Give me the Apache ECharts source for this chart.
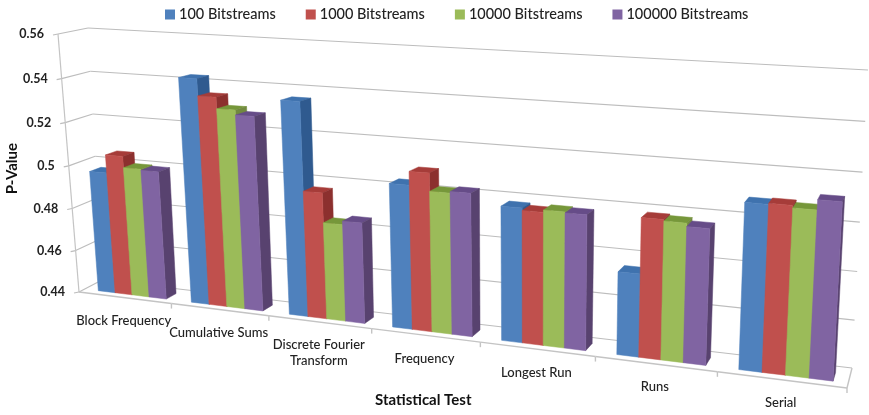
<!DOCTYPE html>
<html>
<head>
<meta charset="utf-8">
<style>html,body{margin:0;padding:0;background:#fff}#chart{width:869px;height:415px}</style>
<script src="https://cdn.jsdelivr.net/npm/echarts@6/dist/echarts.min.js"></script>
</head>
<body>
<div id="chart"></div>
<script>
// P-values per statistical test, one list per bitstream count
const categories = ['Block Frequency', 'Cumulative Sums', 'Discrete Fourier\nTransform', 'Frequency', 'Longest Run', 'Runs', 'Serial'];
const yTicks = [0.44, 0.46, 0.48, 0.5, 0.52, 0.54, 0.56];
const seriesNames = ['100 Bitstreams', '1000 Bitstreams', '10000 Bitstreams', '100000 Bitstreams'];
const bits100 = [0.4968, 0.5428, 0.5358, 0.5034, 0.4979, 0.4751, 0.5081];
const bits1000 = [0.5052, 0.5352, 0.4966, 0.5093, 0.4969, 0.4984, 0.5085];
const bits10000 = [0.5, 0.5301, 0.4834, 0.5015, 0.4979, 0.4978, 0.5075];
const bits100000 = [0.4995, 0.5279, 0.485, 0.5022, 0.4975, 0.4964, 0.5115];

const seriesValues = [bits100, bits1000, bits10000, bits100000];
const faceColors = [
  { front: '#4f81bd', side: '#2f5a8f', top: '#3f72ae' },
  { front: '#c0504d', side: '#8c302e', top: '#a63c39' },
  { front: '#9bbb59', side: '#71893f', top: '#76973a' },
  { front: '#8064a2', side: '#58426f', top: '#664c88' }
];

// Box frame of the 3D view: front and back plane corners on the page
const frontPlane = [[79, 292], [847, 388], [864, 76], [58, 34]];
const backPlane = [[102, 280], [852, 368], [868, 70], [88, 28]];

// Unit square to quadrilateral homography
function homography(q) {
  const [[x0, y0], [x1, y1], [x2, y2], [x3, y3]] = q;
  const dx1 = x1 - x2, dx2 = x3 - x2, sx = x0 - x1 + x2 - x3;
  const dy1 = y1 - y2, dy2 = y3 - y2, sy = y0 - y1 + y2 - y3;
  const det = dx1 * dy2 - dx2 * dy1;
  const g = (sx * dy2 - dx2 * sy) / det;
  const h = (dx1 * sy - sx * dy1) / det;
  const a = x1 - x0 + g * x1, b = x3 - x0 + h * x3;
  const d = y1 - y0 + g * y1, e = y3 - y0 + h * y3;
  return (u, v) => {
    const w = g * u + h * v + 1;
    return [(a * u + b * v + x0) / w, (d * u + e * v + y0) / w];
  };
}
const projFront = homography(frontPlane);
const projBack = homography(backPlane);

// u: along the categories, v: up the value axis, d: depth from front to back wall
function project(u, v, d) {
  const f = projFront(u, v), b = projBack(u, v);
  return [f[0] + (b[0] - f[0]) * d, f[1] + (b[1] - f[1]) * d];
}

// Normalised position of a data point in the flat cartesian scale
function toUnit(cs, pt) {
  return [(pt[0] - cs.x) / cs.width, (cs.y + cs.height - pt[1]) / cs.height];
}

const barDepthFront = 0.25, barDepthBack = 0.68;
const clusterStart = 0.15, clusterEnd = 0.885;

function barRenderer(seriesIndex) {
  const colors = faceColors[seriesIndex];
  const slotWidth = (clusterEnd - clusterStart) / seriesValues.length;
  return function (params, api) {
    const cs = params.coordSys;
    const cat = api.value(0);
    const top = toUnit(cs, api.coord([cat, api.value(1)]));
    const base = toUnit(cs, api.coord([cat, yTicks[0]]));
    const band = api.size([1, 0])[0] / cs.width;
    const bandStart = top[0] - band / 2;
    const u0 = bandStart + band * (clusterStart + slotWidth * seriesIndex);
    const u1 = u0 + band * slotWidth;
    const fn = (u, v) => project(u, v, barDepthFront);
    const bk = (u, v) => project(u, v, barDepthBack);
    const face = (points, color) => ({
      type: 'polygon',
      shape: { points },
      style: { fill: color, stroke: color, lineWidth: 0.5 }
    });
    return {
      type: 'group',
      children: [
        face([fn(u0, top[1]), fn(u1, top[1]), bk(u1, top[1]), bk(u0, top[1])], colors.top),
        face([fn(u1, top[1]), bk(u1, top[1]), bk(u1, base[1]), fn(u1, base[1])], colors.side),
        face([fn(u0, top[1]), fn(u1, top[1]), fn(u1, base[1]), fn(u0, base[1])], colors.front)
      ]
    };
  };
}

// Back wall grid lines, floor edges and value axis with its tick labels
function renderValueLine(params, api) {
  const cs = params.coordSys;
  const v = toUnit(cs, api.coord([0, api.value(0)]))[1];
  const lineStyle = { stroke: '#bdbdbd', lineWidth: 1.2, fill: null };
  const line = (a, b) => ({ type: 'line', shape: { x1: a[0], y1: a[1], x2: b[0], y2: b[1] }, style: lineStyle });
  const frontLeft = project(0, v, 0);
  const backLeft = project(0, v, 1);
  const backRight = project(1, v, 1);
  return {
    type: 'group',
    children: [
      line(frontLeft, backLeft),
      line(backLeft, backRight),
      line(frontLeft, [frontLeft[0] - 5, frontLeft[1] + 1]),
      {
        type: 'text',
        style: {
          text: String(api.value(0)),
          x: frontLeft[0] - 14,
          y: frontLeft[1],
          align: 'right',
          verticalAlign: 'middle',
          fill: '#222',
          font: 'bold 12.5px Lato'
        }
      }
    ]
  };
}

// Front floor edge with a tick and a label for every category
function renderCategory(params, api) {
  const cs = params.coordSys;
  const cat = api.value(0);
  const centre = toUnit(cs, api.coord([cat, yTicks[0]]));
  const band = api.size([1, 0])[0] / cs.width;
  const v = centre[1];
  const lineStyle = { stroke: '#c4c4c4', lineWidth: 1.4, fill: null };
  const left = project(centre[0] - band / 2, v, 0);
  const right = project(centre[0] + band / 2, v, 0);
  const midX = (left[0] + right[0]) / 2;
  const midY = (left[1] + right[1]) / 2;
  const children = [
    { type: 'line', shape: { x1: left[0], y1: left[1], x2: right[0], y2: right[1] }, style: lineStyle },
    { type: 'line', shape: { x1: right[0], y1: right[1], x2: right[0], y2: right[1] + 5 }, style: lineStyle },
    {
      type: 'text',
      style: {
        text: categories[cat],
        x: midX - 1.5,
        y: midY + 15,
        align: 'center',
        verticalAlign: 'top',
        fill: '#222',
        font: '500 13px Lato',
        lineHeight: 16
      }
    }
  ];
  if (cat === categories.length - 1) {
    const backRight = project(1, v, 1);
    children.push({ type: 'line', shape: { x1: right[0], y1: right[1], x2: backRight[0], y2: backRight[1] }, style: lineStyle });
  }
  return { type: 'group', children };
}

// The upright value axis edge
function renderAxisEdge(params, api) {
  const cs = params.coordSys;
  const lo = toUnit(cs, api.coord([0, yTicks[0]]))[1];
  const hi = toUnit(cs, api.coord([0, yTicks[yTicks.length - 1]]))[1];
  const a = project(0, lo, 0), b = project(0, hi, 0);
  return {
    type: 'line',
    shape: { x1: a[0], y1: a[1], x2: b[0], y2: b[1] },
    style: { stroke: '#c4c4c4', lineWidth: 1.2, fill: null }
  };
}

const series = [
  { type: 'custom', silent: true, renderItem: renderValueLine, data: yTicks.map(t => [t]), encode: { y: 0 }, z: 1 },
  { type: 'custom', silent: true, renderItem: renderAxisEdge, data: [[0]], z: 1 },
  { type: 'custom', silent: true, renderItem: renderCategory, data: categories.map((c, i) => [i]), encode: { x: 0 }, z: 1 }
];
seriesNames.forEach((name, i) => {
  series.push({
    type: 'custom',
    name,
    renderItem: barRenderer(i),
    itemStyle: { color: faceColors[i].front },
    data: seriesValues[i].map((val, c) => [c, val]),
    encode: { x: 0, y: 1 },
    z: 2
  });
});

const chart = echarts.init(document.getElementById('chart'), null, { renderer: 'canvas' });
chart.setOption({
  animation: false,
  backgroundColor: '#fff',
  grid: { left: 0, right: 0, top: 0, bottom: 0 },
  xAxis: { type: 'category', data: categories, show: false },
  yAxis: { type: 'value', min: yTicks[0], max: yTicks[yTicks.length - 1], interval: 0.02, show: false },
  legend: {
    data: seriesNames,
    left: 160,
    top: 2,
    icon: 'rect',
    itemWidth: 10,
    itemHeight: 10,
    itemGap: 30,
    textStyle: { fontFamily: 'Lato', fontSize: 14.5, fontWeight: 500, color: '#222', padding: [0, 0, 0, -1] }
  },
  graphic: [
    {
      type: 'text',
      left: 5,
      top: 143,
      rotation: Math.PI / 2,
      style: { text: 'P-Value', fill: '#111', font: 'bold 15px Lato' }
    },
    {
      type: 'text',
      left: 375,
      top: 393,
      style: { text: 'Statistical Test', fill: '#111', font: 'bold 15px Lato' }
    }
  ],
  series
});
</script>
</body>
</html>
